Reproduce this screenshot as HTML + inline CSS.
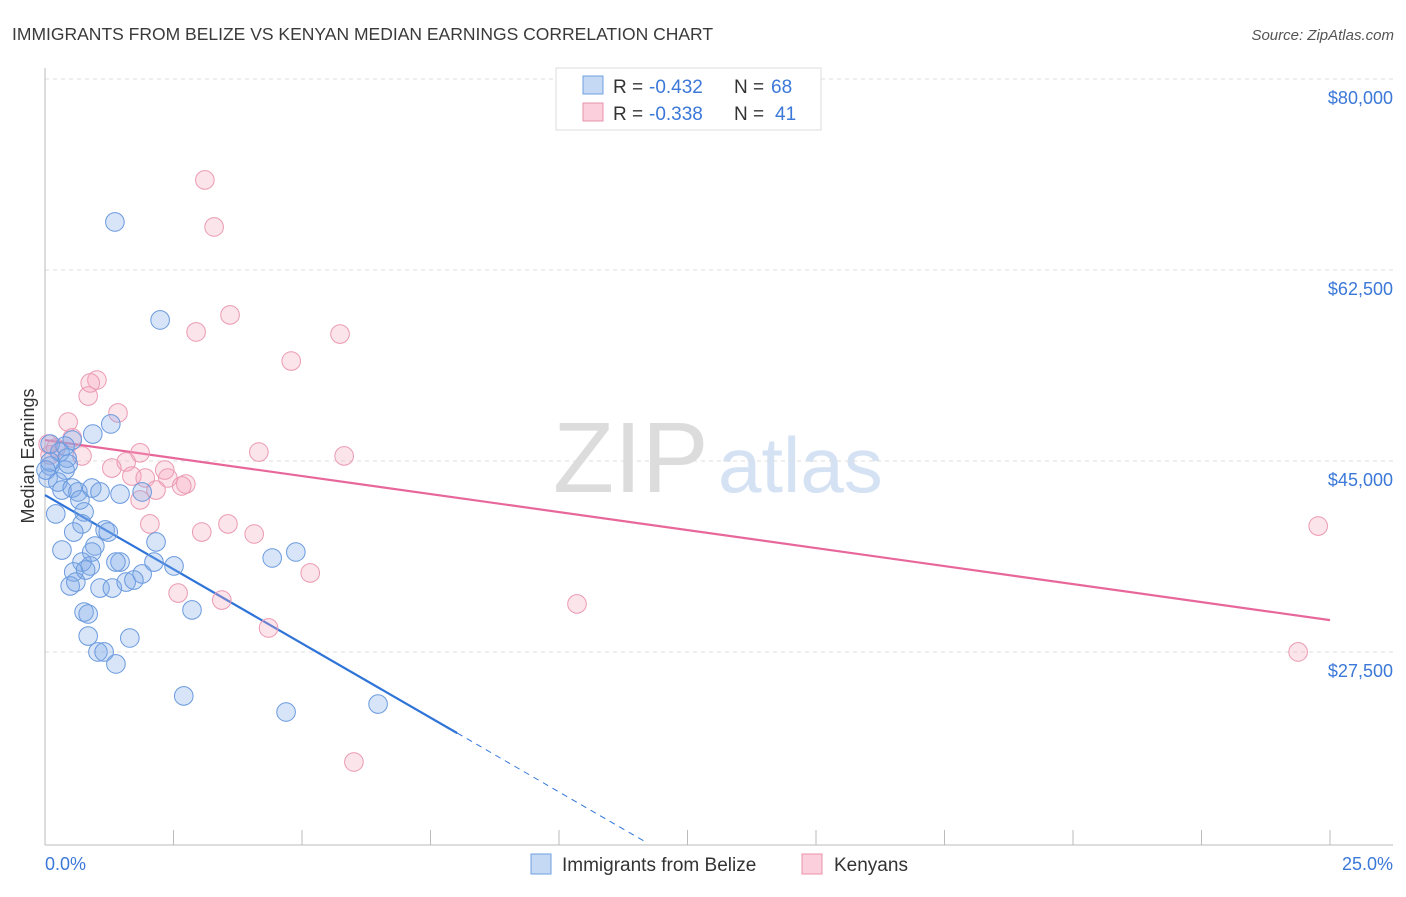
<!DOCTYPE html>
<html><head><meta charset="utf-8"><style>
body{margin:0;background:#fff;font-family:"Liberation Sans",sans-serif}
svg text{font-family:"Liberation Sans",sans-serif}
</style></head><body>
<svg id="c" width="1406" height="892">
<text x="12" y="40" font-size="17.5" fill="#3a3a3a">IMMIGRANTS FROM BELIZE VS KENYAN MEDIAN EARNINGS CORRELATION CHART</text>
<text x="1394" y="40" font-size="15" fill="#555" font-style="italic" text-anchor="end">Source: ZipAtlas.com</text>
<text x="553" y="492" font-size="100" fill="#dcdcdc" font-family="Liberation Serif">ZIP</text>
<text x="718" y="492" font-size="78" fill="#d4e2f4">atlas</text>
<g id="grid"></g><g id="axes"></g><g id="trend"></g><g id="pts"></g>
<text transform="translate(34,456) rotate(-90)" font-size="18" fill="#333" text-anchor="middle">Median Earnings</text>
<text x="45" y="870" font-size="18" fill="#3b78d8">0.0%</text>
<text x="1393" y="870" font-size="18" fill="#3b78d8" text-anchor="end">25.0%</text>
<g>
<rect x="556" y="68" width="265" height="62" fill="#fff" stroke="#ddd"/>
<rect x="583" y="76" width="20" height="18" fill="#c5d9f5" stroke="#6f9fe0"/>
<text y="93" font-size="19" fill="#333"><tspan x="613">R =</tspan><tspan x="649" fill="#3b78d8">-0.432</tspan><tspan x="734">N =</tspan><tspan x="771" fill="#3b78d8">68</tspan></text>
<rect x="583" y="103" width="20" height="18" fill="#fbd0dc" stroke="#e890aa"/>
<text y="120" font-size="19" fill="#333"><tspan x="613">R =</tspan><tspan x="649" fill="#3b78d8">-0.338</tspan><tspan x="734">N =</tspan><tspan x="775" fill="#3b78d8">41</tspan></text>
</g>
<g>
<rect x="531" y="854" width="20" height="20" fill="#c5d9f5" stroke="#6f9fe0"/>
<text x="562" y="871" font-size="19" fill="#333">Immigrants from Belize</text>
<rect x="802" y="854" width="20" height="20" fill="#fbd0dc" stroke="#e890aa"/>
<text x="834" y="871" font-size="19" fill="#333">Kenyans</text>
</g>
</svg>
<script>
const yTicks=[80000,62500,45000,27500];
const yTickLabels=["$80,000","$62,500","$45,000","$27,500"];
const xTicks=[2.5,5,7.5,10,12.5,15,17.5,20,22.5,25];
const belizeX=[1.36,2.24,1.28,0.93,0.53,0.39,0.10,0.29,0.43,0.10,0.39,0.06,0.25,0.33,0.53,0.64,0.91,1.07,1.46,1.89,0.68,0.21,0.76,0.72,0.56,1.17,1.23,2.16,0.97,0.91,0.33,1.46,1.38,0.72,0.88,0.56,0.79,1.89,2.51,2.12,4.42,4.88,0.49,0.60,1.07,1.31,1.58,1.73,2.86,0.76,0.84,1.65,0.84,1.03,1.15,1.38,2.70,4.69,6.48,0.10,0.02,0.45];
const belizeY=[68.55,59.57,50.04,49.12,48.57,48.02,48.2,47.47,46.92,46.19,45.82,45.09,44.72,43.99,44.17,43.81,44.17,43.81,43.62,43.81,43.08,41.8,41.98,40.88,40.14,40.33,40.14,39.23,38.86,38.31,38.49,37.39,37.39,37.39,37.03,36.48,36.66,36.3,37.03,37.39,37.76,38.31,35.2,35.56,35.01,35.01,35.56,35.74,33.0,32.81,32.63,30.43,30.61,29.15,29.15,28.05,25.12,23.65,24.38,46.56,45.82,46.37];
const kenyaX=[3.11,3.29,3.60,2.94,5.74,4.79,1.01,0.88,0.84,1.42,0.45,0.53,0.06,0.21,0.72,4.16,5.82,1.58,1.30,1.69,1.95,2.33,2.39,2.74,2.66,2.16,1.85,2.04,3.05,3.56,4.07,24.77,5.16,2.59,3.44,10.35,4.35,24.38,6.01,1.85,0.10];
const kenyaY=[72.4,68.09,60.03,58.47,58.28,55.81,54.07,53.8,52.6,51.05,50.22,48.76,48.2,47.84,47.11,47.47,47.11,46.56,46.0,45.27,45.09,45.82,45.09,44.54,44.36,43.99,43.08,40.88,40.14,40.88,39.96,40.69,36.39,34.55,33.91,33.55,31.35,29.15,19.07,47.4,47.2];
const belizeTrend=[43.53,-2.72]; // intercept (k$), slope per %
const kenyaTrend=[48.57,-0.66];
const NS="http://www.w3.org/2000/svg";
const xS=p=>45+p*51.4;
const yS=v=>97+(80-v)*10.914; // v in thousands
function mk(tag,at,parent){const e=document.createElementNS(NS,tag);for(const k in at)e.setAttribute(k,at[k]);document.getElementById(parent).appendChild(e);return e;}
yTicks.forEach((t,i)=>{
 const y=yS(t/1000);
 const g=mk('line',{x1:45,x2:1393,y1:y-18,y2:y-18,stroke:'#ddd','stroke-dasharray':'4,4'},'grid');
 
 
 const tx=mk('text',{x:1393,y:y+7,'font-size':18,fill:'#3b78d8','text-anchor':'end'},'grid');
 tx.textContent=yTickLabels[i];
 
 
});
let a=mk('line',{x1:45,x2:45,y1:68,y2:845,stroke:'#bbb'},'axes');


a=mk('line',{x1:45,x2:1393,y1:845,y2:845,stroke:'#bbb'},'axes');


xTicks.forEach(t=>{const l=mk('line',{x1:xS(t),x2:xS(t),y1:830,y2:845,stroke:'#bbb'},'axes');
 
 });
function pts(X,Y,fill,stroke,name){X.forEach((x,i)=>{const c=mk('circle',{cx:xS(x),cy:yS(Y[i]),r:9.3,fill:fill,stroke:stroke,'stroke-width':1},'pts');
 
 });}
pts(kenyaX,kenyaY,'rgba(245,165,190,0.3)','#eb9ab2','kenyan-point');
pts(belizeX,belizeY,'rgba(125,170,232,0.3)','#6a9ade','belize-point');
let t=mk('line',{x1:xS(0),y1:yS(belizeTrend[0]),x2:xS(8.02),y2:yS(belizeTrend[0]+belizeTrend[1]*8.02),stroke:'#2f74d8','stroke-width':2.2},'trend');


t=mk('line',{x1:xS(8.02),y1:yS(belizeTrend[0]+belizeTrend[1]*8.02),x2:xS(11.67),y2:yS(belizeTrend[0]+belizeTrend[1]*11.67),stroke:'#2f74d8','stroke-width':1,'stroke-dasharray':'6,5'},'trend');


t=mk('line',{x1:xS(0),y1:yS(kenyaTrend[0]),x2:xS(25),y2:yS(kenyaTrend[0]+kenyaTrend[1]*25),stroke:'#e8679a','stroke-width':2.2},'trend');


</script>
</body></html>
